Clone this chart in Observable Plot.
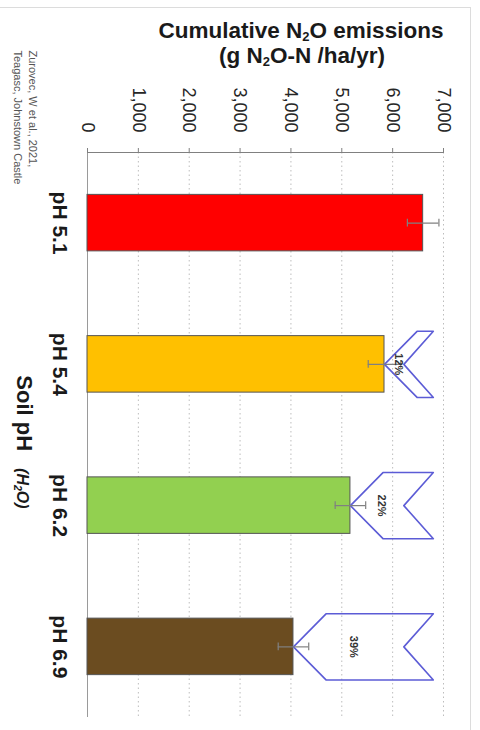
<!DOCTYPE html>
<html>
<head>
<meta charset="utf-8">
<script src="https://cdn.jsdelivr.net/npm/d3@7"></script>
<script src="https://cdn.jsdelivr.net/npm/@observablehq/plot@0.6"></script>
<style>
  html, body { margin: 0; padding: 0; background: #fff; }
  #wrap { position: relative; width: 480px; height: 730px; overflow: hidden; }
  #frame { position: absolute; left: 0; top: 7px; width: 470px; height: 730px;
           border-top: 1px solid #dcdcdc; border-right: 1px solid #dcdcdc; pointer-events: none; }
  #chart svg { display: block; }
</style>
</head>
<body>
<div id="wrap"><div id="chart"></div><div id="frame"></div></div>
<script>
// ---- data ----
const categories = ["pH 5.1", "pH 5.4", "pH 6.2", "pH 6.9"];
const emissions = [6600, 5840, 5170, 4050];
const errors = [310, 320, 300, 300];
const reductions = [null, "12%", "22%", "39%"];
const xTicks = [0, 1000, 2000, 3000, 4000, 5000, 6000, 7000];
const sourceText = "Zurovec, W et al., 2021,\nTeagasc, Johnstown Castle";

// ---- styling / geometry constants ----
const palette = ["#ff0000", "#ffc000", "#92d050", "#6b4c20"];
const font = "'Liberation Sans', Arial, Helvetica, sans-serif";
const half = 0.2;          // bar half thickness (category units)
const chevHalf = 0.234;    // chevron half height
const chevEnd = 6800;      // chevron right edge (value units)
const chevDepth = 640;     // diagonal depth
const chevNotch = chevEnd - chevDepth + 60;

const rows = categories.map((c, i) => ({cat: c, i, value: emissions[i], err: errors[i], red: reductions[i]}));
const chevRows = rows.filter(d => d.red);
const chevPts = chevRows.flatMap(d => [
  {cat: d.cat, x: d.value, y: d.i},
  {cat: d.cat, x: d.value + chevDepth, y: d.i - chevHalf},
  {cat: d.cat, x: chevEnd, y: d.i - chevHalf},
  {cat: d.cat, x: chevNotch, y: d.i},
  {cat: d.cat, x: chevEnd, y: d.i + chevHalf},
  {cat: d.cat, x: d.value + chevDepth, y: d.i + chevHalf}
]);
const fmt = d3.format(",");

const plot = Plot.plot({
  width: 480,
  height: 730,
  marginTop: 152,
  marginBottom: 13,
  marginLeft: 87,
  marginRight: 37,
  style: {fontFamily: font, background: "transparent", color: "#222"},
  x: {domain: [0, 7000]},
  y: {domain: [-0.5, 3.5], reverse: true, axis: null},
  color: {domain: categories, range: palette},
  marks: [
    Plot.ruleX(xTicks.slice(1), {stroke: "#bdbdbd", strokeDasharray: "1.5,3"}),
    Plot.ruleX([0], {stroke: "#9a9a9a"}),
    Plot.axisX({anchor: "top", ticks: xTicks, tickSize: 5, tickFormat: () => "", stroke: "#808080"}),
    Plot.ruleY([-0.5], {stroke: "#808080"}),
    Plot.rectX(rows, {x1: 0, x2: "value", y1: d => d.i - half, y2: d => d.i + half,
                      fill: "cat", stroke: "#555", strokeWidth: 1}),
    Plot.line(chevPts, {x: "x", y: "y", z: "cat", curve: "linear-closed",
                        stroke: "#5c5cd6", strokeWidth: 1.6}),
    Plot.ruleY(rows, {x1: d => d.value - d.err, x2: d => d.value + d.err, y: "i", stroke: "#808080", strokeWidth: 1.2}),
    Plot.ruleX(rows, {x: d => d.value + d.err, y1: d => d.i - 0.028, y2: d => d.i + 0.028, stroke: "#808080", strokeWidth: 1.2}),
    Plot.ruleX(rows, {x: d => d.value - d.err, y1: d => d.i - 0.028, y2: d => d.i + 0.028, stroke: "#808080", strokeWidth: 1.2}),
    Plot.text(chevRows, {x: d => (d.value + chevEnd - 400) / 2, y: "i", text: "red", rotate: 90,
                         textAnchor: "middle", lineAnchor: "middle", fontSize: 11, fontWeight: "bold", fill: "#333"}),
    Plot.text(rows, {y: "i", frameAnchor: "left", text: "cat", rotate: 90, textAnchor: "middle",
                     lineAnchor: "middle", dx: -28, fontSize: 21, fontWeight: "bold", fill: "#1a1a1a"}),
    Plot.text(xTicks, {x: d => d, frameAnchor: "top", text: d => fmt(d), rotate: 90, textAnchor: "end",
                       lineAnchor: "middle", dy: -20, fontSize: 18, fill: "#262626"}),
    Plot.text([sourceText], {frameAnchor: "top-left", text: d => d, rotate: 90, textAnchor: "start",
                             lineAnchor: "middle", dx: -61.5, dy: -102, fontSize: 11, lineHeight: 1.36, fill: "#555"})
  ]
});

const svg = d3.select(plot);
// Title (two lines, with subscripts)
const t1 = svg.append("text").attr("x", 301).attr("y", 38).attr("text-anchor", "middle")
  .attr("font-family", font).attr("font-size", 22.5).attr("font-weight", "bold").attr("fill", "#1a1a1a");
t1.append("tspan").text("Cumulative N");
t1.append("tspan").attr("font-size", 13).attr("dy", 3).text("2");
t1.append("tspan").attr("dy", -3).text("O emissions");
const t2 = svg.append("text").attr("x", 302).attr("y", 63).attr("text-anchor", "middle")
  .attr("font-family", font).attr("font-size", 22.5).attr("font-weight", "bold").attr("fill", "#1a1a1a");
t2.append("tspan").text("(g N");
t2.append("tspan").attr("font-size", 13).attr("dy", 3).text("2");
t2.append("tspan").attr("dy", -3).text("O-N /ha/yr)");
// Category axis label (rotated)
const yl = svg.append("text").attr("transform", "translate(17,442) rotate(90)").attr("text-anchor", "middle")
  .attr("font-family", font).attr("fill", "#1a1a1a").attr("font-weight", "bold");
yl.append("tspan").attr("font-size", 22).text("Soil pH");
yl.append("tspan").attr("font-size", 16).attr("font-style", "italic").attr("dx", 17).text("(H");
yl.append("tspan").attr("font-size", 10.5).attr("font-style", "italic").attr("dy", 3).text("2");
yl.append("tspan").attr("font-size", 16).attr("font-style", "italic").attr("dy", -3).text("O)");

document.getElementById("chart").appendChild(plot);
</script>
</body>
</html>
